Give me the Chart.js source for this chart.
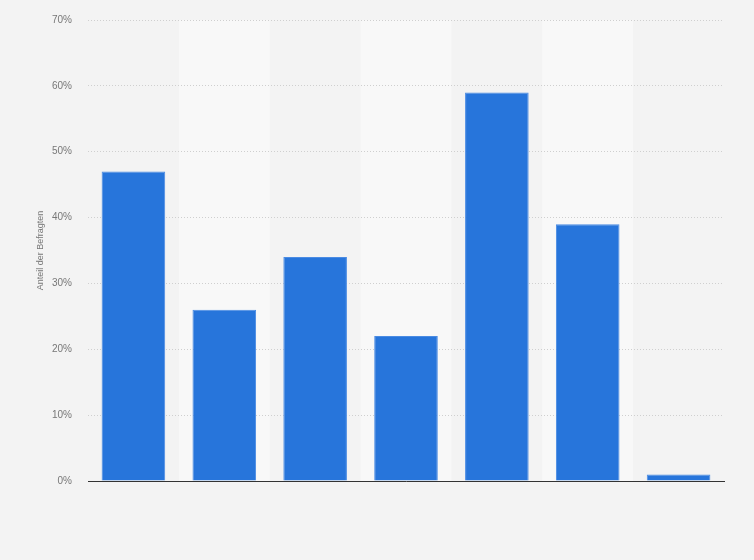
<!DOCTYPE html>
<html>
<head>
<meta charset="utf-8">
<script src="https://cdn.jsdelivr.net/npm/chart.js@4"></script>
<style>
  html, body { margin: 0; padding: 0; background: #f3f3f3; }
  #wrap { width: 754px; height: 560px; position: relative; }
</style>
</head>
<body>
<div id="wrap"><canvas id="chart"></canvas></div>
<script>
const categories = ['', '', '', '', '', '', ''];
const shares = [47, 26, 34, 22, 59, 39, 1];
const yTicks = [0, 10, 20, 30, 40, 50, 60, 70];

// lighter background in every second column
const bandPlugin = {
  id: 'bands',
  beforeDraw(chart) {
    const ctx = chart.ctx;
    const x = chart.scales.x;
    const area = chart.chartArea;
    ctx.save();
    ctx.fillStyle = '#f8f8f8';
    for (let i = 1; i < categories.length; i += 2) {
      const left = x.getPixelForValue(i) - x.width / categories.length / 2;
      ctx.fillRect(left, area.top, x.width / categories.length, area.bottom - area.top);
    }
    ctx.restore();
  }
};

new Chart(document.getElementById('chart'), {
  type: 'bar',
  data: {
    labels: categories,
    datasets: [{
      data: shares,
      backgroundColor: '#2775db',
      borderColor: '#4a8be3',
      borderWidth: 1,
      categoryPercentage: 1,
      barPercentage: 0.7
    }]
  },
  options: {
    responsive: true,
    maintainAspectRatio: false,
    animation: false,
    layout: { padding: { top: 20, right: 30, bottom: 79, left: 0 } },
    plugins: { legend: { display: false }, tooltip: { enabled: false } },
    scales: {
      x: {
        grid: { display: false },
        ticks: { display: false },
        border: { display: true, color: '#333', width: 1 },
        afterFit(scale) { scale.height = 0; }
      },
      y: {
        min: 0,
        max: 70,
        afterBuildTicks(scale) { scale.ticks = yTicks.map(v => ({ value: v })); },
        afterFit(scale) {
          scale.width = 88;
          scale.paddingTop = 0;
          scale.paddingBottom = 0;
        },
        grid: { color: '#cfcfcf', drawTicks: false, lineWidth: 1 },
        border: { display: false, dash: [1, 2] },
        ticks: {
          padding: 16,
          color: '#777',
          font: { family: 'Liberation Sans', size: 10 },
          callback: v => v + '%'
        },
        title: {
          display: true,
          text: 'Anteil der Befragten',
          color: '#777',
          font: { family: 'Liberation Sans', size: 9 },
          padding: { top: 35, bottom: 0 }
        }
      }
    }
  },
  plugins: [bandPlugin]
});
</script>
</body>
</html>
